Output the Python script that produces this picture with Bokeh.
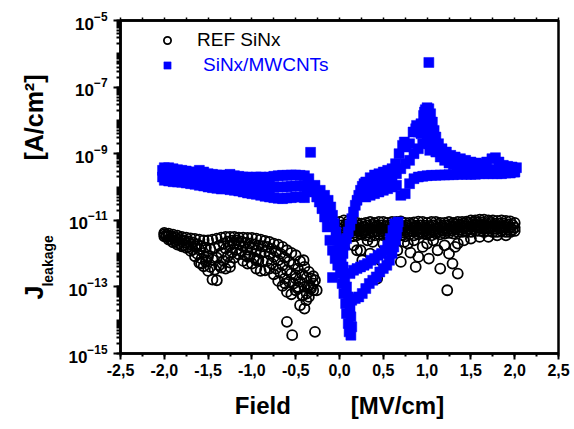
import numpy as np
from bokeh.plotting import figure
from bokeh.models import (Range1d, FixedTicker, LinearAxis, Legend, LegendItem,
                          CustomJSTickFormatter, ColumnDataSource)
from bokeh.embed import file_html
from bokeh.resources import INLINE

# ---------------- data (values are log10 of J_leakage in A/cm^2) ----------------
x_ticks = [-2.5, -2.0, -1.5, -1.0, -0.5, 0.0, 0.5, 1.0, 1.5, 2.0, 2.5]
x_tick_labels = ["-2,5", "-2,0", "-1,5", "-1,0", "-0,5", "0,0", "0,5", "1,0", "1,5", "2,0", "2,5"]
y_tick_decades = [-15, -13, -11, -9, -7, -5]

# REF SiNx, negative field side
ref_neg_x = [-2.00, -1.95, -1.90, -1.85, -1.80, -1.75, -1.70, -1.65, -1.60, -1.55,
             -1.50, -1.45, -1.40, -1.35, -1.30, -1.25, -1.20, -1.15, -1.10, -1.05,
             -1.00, -0.95, -0.90, -0.85, -0.80, -0.75, -0.70, -0.65, -0.60, -0.55,
             -0.50, -0.45, -0.40, -0.35, -0.30]
ref_neg_upper = [-11.38, -11.40, -11.43, -11.46, -11.50, -11.52, -11.54, -11.56, -11.58, -11.60,
                 -11.60, -11.58, -11.55, -11.52, -11.50, -11.50, -11.50, -11.52, -11.52, -11.53,
                 -11.53, -11.55, -11.58, -11.62, -11.65, -11.70, -11.73, -11.80, -11.90, -11.98,
                 -12.05, -12.23, -12.40, -12.55, -12.68]
ref_neg_mid = [-11.42, -11.48, -11.53, -11.58, -11.63, -11.68, -11.72, -11.78, -11.88, -11.98,
               -12.08, -12.18, -12.12, -11.98, -11.85, -11.75, -11.70, -11.70, -11.78, -11.88,
               -11.85, -11.90, -11.98, -11.95, -12.00, -12.10, -12.20, -12.35, -12.50, -12.60,
               -12.65, -12.85, -13.00, -12.95, -12.90]
ref_neg_lower = [-11.48, -11.58, -11.66, -11.73, -11.78, -11.83, -11.92, -12.08, -12.28, -12.38,
                 -12.52, -12.78, -12.80, -12.42, -12.45, -12.27, -12.12, -12.02, -12.22, -12.30,
                 -12.30, -12.45, -12.52, -12.50, -12.45, -12.62, -12.82, -12.97, -13.15, -13.22,
                 -13.10, -13.55, -13.65, -13.30, -13.10]
ref_neg_x2 = [-1.975, -1.925, -1.875, -1.825, -1.775, -1.725, -1.675, -1.625, -1.575, -1.525,
              -1.475, -1.425, -1.375, -1.325, -1.275, -1.225, -1.175, -1.125, -1.075, -1.025,
              -0.975, -0.925, -0.875, -0.825, -0.775, -0.725, -0.675, -0.625, -0.575, -0.525,
              -0.475, -0.425, -0.375, -0.325]
ref_neg_q1 = [-11.44, -11.48, -11.52, -11.56, -11.60, -11.63, -11.66, -11.72, -11.78, -11.82,
              -11.86, -11.82, -11.76, -11.70, -11.64, -11.61, -11.60, -11.63, -11.68, -11.70,
              -11.72, -11.76, -11.78, -11.80, -11.86, -11.93, -12.00, -12.12, -12.24, -12.32,
              -12.45, -12.62, -12.72, -12.75]
ref_neg_q2 = [-11.50, -11.58, -11.63, -11.70, -11.75, -11.80, -11.88, -12.00, -12.15, -12.25,
              -12.40, -12.48, -12.35, -12.22, -12.08, -11.96, -11.88, -11.92, -12.05, -12.08,
              -12.12, -12.20, -12.24, -12.22, -12.30, -12.45, -12.58, -12.75, -12.85, -12.90,
              -13.05, -13.25, -13.20, -13.05]
ref_neg_scatter_x = [-1.58, -1.52, -1.25, -1.05, -0.95, -0.62, -0.50, -0.47, -0.42, -0.38,
                     -0.33, -0.28, -0.26, -0.41, -0.60, -0.54, -0.28]
ref_neg_scatter = [-12.30, -12.20, -12.40, -12.10, -12.20, -12.90, -12.75, -13.00, -13.25, -13.40,
                   -13.00, -12.80, -13.10, -12.20, -14.05, -14.45, -14.35]

# REF SiNx, positive field side
ref_pos_x = [0.00, 0.05, 0.10, 0.15, 0.20, 0.25, 0.30, 0.35, 0.40, 0.45,
             0.50, 0.55, 0.60, 0.65, 0.70, 0.75, 0.80, 0.85, 0.90, 0.95,
             1.00, 1.05, 1.10, 1.15, 1.20, 1.25, 1.30, 1.35, 1.40, 1.45,
             1.50, 1.55, 1.60, 1.65, 1.70, 1.75, 1.80, 1.85, 1.90, 1.95, 2.00]
ref_pos_upper = [-11.05, -11.00, -11.03, -11.08, -11.08, -11.10, -11.08, -11.05, -11.08, -11.05,
                 -11.05, -11.08, -11.05, -11.05, -11.03, -11.08, -11.08, -11.06, -11.04, -11.05,
                 -11.08, -11.05, -11.05, -11.08, -11.08, -11.05, -11.08, -11.05, -11.05, -11.04,
                 -11.00, -11.00, -10.98, -10.98, -11.00, -11.00, -11.02, -11.00, -11.02, -11.03, -11.08]
ref_pos_mid = [-11.25, -11.22, -11.25, -11.28, -11.26, -11.25, -11.28, -11.25, -11.22, -11.25,
               -11.26, -11.28, -11.25, -11.24, -11.26, -11.28, -11.25, -11.22, -11.25, -11.26,
               -11.25, -11.28, -11.25, -11.22, -11.24, -11.26, -11.22, -11.20, -11.20, -11.18,
               -11.18, -11.15, -11.15, -11.15, -11.18, -11.18, -11.18, -11.20, -11.20, -11.22, -11.22]
ref_pos_lower = [-11.42, -11.45, -11.42, -11.48, -11.45, -11.42, -11.45, -11.48, -11.45, -11.42,
                 -11.45, -11.48, -11.45, -11.42, -11.45, -11.48, -11.42, -11.45, -11.42, -11.40,
                 -11.42, -11.45, -11.40, -11.42, -11.40, -11.38, -11.40, -11.35, -11.35, -11.32,
                 -11.35, -11.32, -11.32, -11.35, -11.32, -11.35, -11.35, -11.32, -11.35, -11.35, -11.32]
ref_pos_x2 = [0.025, 0.075, 0.125, 0.175, 0.225, 0.275, 0.325, 0.375, 0.425, 0.475,
              0.525, 0.575, 0.625, 0.675, 0.725, 0.775, 0.825, 0.875, 0.925, 0.975,
              1.025, 1.075, 1.125, 1.175, 1.225, 1.275, 1.325, 1.375, 1.425, 1.475,
              1.525, 1.575, 1.625, 1.675, 1.725, 1.775, 1.825, 1.875, 1.925, 1.975]
ref_pos_q1 = [-11.15, -11.12, -11.16, -11.18, -11.16, -11.18, -11.15, -11.14, -11.16, -11.15,
              -11.17, -11.15, -11.14, -11.16, -11.17, -11.15, -11.14, -11.16, -11.15, -11.16,
              -11.17, -11.15, -11.14, -11.16, -11.15, -11.14, -11.12, -11.12, -11.10, -11.08,
              -11.07, -11.06, -11.06, -11.08, -11.08, -11.10, -11.10, -11.10, -11.12, -11.14]
ref_pos_q2 = [-11.35, -11.34, -11.36, -11.37, -11.35, -11.36, -11.37, -11.35, -11.33, -11.35,
              -11.37, -11.36, -11.34, -11.35, -11.37, -11.35, -11.33, -11.34, -11.35, -11.34,
              -11.36, -11.35, -11.33, -11.32, -11.32, -11.30, -11.28, -11.27, -11.25, -11.25,
              -11.24, -11.23, -11.25, -11.24, -11.25, -11.26, -11.25, -11.27, -11.28, -11.28]
ref_pos_scatter_x = [0.05, 0.16, 0.20, 0.24, 0.26, 0.32, 0.35, 0.38, 0.43, 0.47,
                     0.50, 0.55, 0.62, 0.66, 0.70, 0.74, 0.78, 0.81, 0.85, 0.87,
                     0.90, 0.95, 1.00, 1.02, 1.07, 1.12, 1.15, 1.20, 1.23, 1.25,
                     1.29, 1.32, 1.35, 1.35, 1.42, 1.50, 1.60, 1.70, 1.80, 1.90]
ref_pos_scatter = [-11.60, -11.75, -11.90, -11.90, -12.20, -11.60, -12.00, -11.65, -12.75, -12.20,
                   -11.70, -11.85, -11.60, -11.90, -12.25, -11.65, -11.70, -11.97, -11.60, -12.40,
                   -12.10, -11.80, -11.70, -12.15, -11.60, -11.90, -12.45, -11.75, -13.10, -12.00,
                   -12.30, -11.80, -12.60, -11.70, -11.60, -11.55, -11.50, -11.50, -11.45, -11.45]

# SiNx/MWCNTs, negative field plateau
blue_neg_x = [-2.00, -1.95, -1.90, -1.85, -1.80, -1.75, -1.70, -1.65, -1.60, -1.55,
              -1.50, -1.45, -1.40, -1.35, -1.30, -1.25, -1.20, -1.15, -1.10, -1.05,
              -1.00, -0.95, -0.90, -0.85, -0.80, -0.75, -0.70, -0.65, -0.60, -0.55,
              -0.50, -0.45, -0.40]
blue_neg_upper = [-9.42, -9.42, -9.45, -9.48, -9.50, -9.52, -9.55, -9.55, -9.50, -9.55,
                  -9.60, -9.62, -9.64, -9.64, -9.66, -9.62, -9.66, -9.68, -9.70, -9.70,
                  -9.72, -9.70, -9.70, -9.72, -9.70, -9.68, -9.66, -9.65, -9.65, -9.64,
                  -9.64, -9.65, -9.66]
blue_neg_mid = [-9.60, -9.62, -9.64, -9.66, -9.68, -9.70, -9.72, -9.74, -9.72, -9.76,
                -9.80, -9.82, -9.84, -9.85, -9.86, -9.85, -9.88, -9.90, -9.92, -9.94,
                -9.96, -9.96, -9.98, -10.00, -10.00, -10.00, -10.00, -10.00, -9.99, -9.98,
                -9.97, -9.97, -9.99]
blue_neg_lower = [-9.80, -9.82, -9.84, -9.85, -9.86, -9.88, -9.90, -9.92, -9.95, -9.97,
                  -10.00, -10.02, -10.04, -10.06, -10.05, -10.08, -10.10, -10.12, -10.15, -10.18,
                  -10.20, -10.22, -10.25, -10.28, -10.30, -10.32, -10.34, -10.35, -10.33, -10.32,
                  -10.30, -10.30, -10.32]

# SiNx/MWCNTs, dip around zero field
blue_dip_a_x = [-0.36, -0.32, -0.29, -0.26, -0.23, -0.20, -0.17, -0.14, -0.11, -0.08,
                -0.05, -0.02, 0.01, 0.03, 0.05, 0.07, 0.08, 0.10, 0.11, 0.13]
blue_dip_a = [-9.85, -10.00, -10.15, -10.30, -10.45, -10.65, -10.90, -11.20, -11.60, -11.90,
              -12.15, -12.35, -12.60, -12.90, -13.20, -13.50, -13.80, -14.10, -14.35, -14.45]
blue_dip_b_x = [-0.28, -0.22, -0.17, -0.13, -0.10, -0.08, -0.06, -0.04, -0.02, 0.00,
                0.02, 0.04, 0.06, 0.08, 0.10, 0.12, 0.13, 0.14]
blue_dip_b = [-9.95, -10.10, -10.25, -10.40, -10.60, -10.85, -11.10, -11.35, -11.60, -11.85,
              -12.10, -12.40, -12.70, -13.00, -13.30, -13.60, -13.90, -14.20]
blue_arm_x = [0.04, 0.06, 0.08, 0.10, 0.12, 0.14, 0.16, 0.18, 0.20, 0.22, 0.24, 0.26, 0.28]
blue_arm = [-12.00, -11.75, -11.55, -11.35, -11.15, -10.95, -10.75, -10.55, -10.40, -10.25,
            -10.10, -9.98, -9.90]
blue_rise_a_x = [0.14, 0.18, 0.22, 0.26, 0.30, 0.34, 0.38, 0.42, 0.46, 0.50,
                 0.54, 0.57, 0.60, 0.62, 0.64, 0.65, 0.66, 0.67]
blue_rise_a = [-13.40, -13.35, -13.30, -13.20, -13.05, -12.90, -12.80, -12.70, -12.55, -12.45,
               -12.35, -12.20, -12.00, -11.80, -11.60, -11.40, -11.20, -11.05]
blue_rise_b_x = [0.12, 0.16, 0.20, 0.24, 0.28, 0.32, 0.36, 0.40, 0.44, 0.48,
                 0.52, 0.55, 0.58, 0.61, 0.63]
blue_rise_b = [-12.60, -12.50, -12.45, -12.40, -12.35, -12.30, -12.20, -12.15, -12.05, -12.00,
               -11.90, -11.75, -11.55, -11.30, -11.10]

# SiNx/MWCNTs, positive field side with peak near 1 MV/cm
blue_top_x = [0.30, 0.35, 0.40, 0.45, 0.50, 0.55, 0.60, 0.64, 0.68, 0.72,
              0.76, 0.80, 0.84, 0.87, 0.90, 0.93, 0.96, 0.98, 1.00, 1.02,
              1.04, 1.06, 1.08, 1.10, 1.13, 1.17, 1.22, 1.27, 1.32, 1.38,
              1.44, 1.50, 1.56, 1.62, 1.68, 1.74, 1.78, 1.82, 1.87, 1.92, 1.97, 2.02]
blue_top = [-9.85, -9.72, -9.64, -9.60, -9.55, -9.50, -9.45, -9.30, -9.00, -8.75,
            -8.80, -8.70, -8.35, -8.25, -8.35, -8.10, -7.85, -7.68, -7.62, -7.65,
            -7.80, -8.05, -8.30, -8.50, -8.70, -8.85, -8.95, -9.05, -9.10, -9.15,
            -9.20, -9.25, -9.28, -9.30, -9.25, -9.15, -9.12, -9.25, -9.35, -9.38, -9.40, -9.42]
blue_pos_x = [0.30, 0.35, 0.40, 0.45, 0.50, 0.55, 0.60, 0.65, 0.70, 0.75,
              0.80, 0.85, 0.90, 0.95, 1.00, 1.05, 1.10, 1.15, 1.20, 1.25,
              1.30, 1.35, 1.40, 1.45, 1.50, 1.55, 1.60, 1.65, 1.70, 1.75,
              1.80, 1.85, 1.90, 1.95, 2.00]
blue_pos_mid = [-10.05, -9.98, -9.92, -9.88, -9.84, -9.80, -9.75, -9.60, -9.45, -9.30,
                -9.20, -9.00, -8.85, -8.70, -8.55, -8.70, -8.95, -9.10, -9.20, -9.28,
                -9.33, -9.38, -9.40, -9.42, -9.45, -9.46, -9.47, -9.48, -9.48, -9.48,
                -9.50, -9.50, -9.52, -9.52, -9.55]
blue_pos_lower = [-10.30, -10.25, -10.20, -10.15, -10.10, -10.05, -10.00, -9.95, -10.25, -10.20,
                  -9.90, -9.75, -9.70, -9.68, -9.66, -9.65, -9.65, -9.64, -9.64, -9.63,
                  -9.63, -9.62, -9.62, -9.62, -9.62, -9.62, -9.60, -9.60, -9.60, -9.60,
                  -9.60, -9.60, -9.58, -9.58, -9.55]
blue_spike_x = [0.97, 0.99, 1.00, 1.00, 1.01, 1.02, 1.03, 0.93, 0.88, 0.74]
blue_spike = [-7.75, -7.90, -8.10, -8.30, -8.50, -8.70, -8.90, -8.40, -8.15, -8.65]
blue_extra_x = [-2.02, -2.02, -1.97, -1.92, -0.35, -0.37, -0.33, 1.02, -0.08]
blue_extra = [-9.50, -9.70, -9.55, -9.75, -9.75, -10.10, -8.96, -6.26, -12.72]

ref_x = (ref_neg_x * 3 + ref_neg_x2 * 2 + ref_neg_scatter_x
         + ref_pos_x * 3 + ref_pos_x2 * 2 + ref_pos_scatter_x)
ref_log = (ref_neg_upper + ref_neg_mid + ref_neg_lower + ref_neg_q1 + ref_neg_q2 + ref_neg_scatter
           + ref_pos_upper + ref_pos_mid + ref_pos_lower + ref_pos_q1 + ref_pos_q2 + ref_pos_scatter)
blue_x = (blue_neg_x * 3 + blue_dip_a_x + blue_dip_b_x + blue_arm_x + blue_rise_a_x
          + blue_rise_b_x + blue_top_x + blue_pos_x * 2 + blue_spike_x + blue_extra_x)
blue_log = (blue_neg_upper + blue_neg_mid + blue_neg_lower + blue_dip_a + blue_dip_b + blue_arm
            + blue_rise_a + blue_rise_b + blue_top + blue_pos_mid + blue_pos_lower
            + blue_spike + blue_extra)

ref_src = ColumnDataSource(dict(x=ref_x, y=(10.0 ** np.array(ref_log)).tolist()))
blue_src = ColumnDataSource(dict(x=blue_x, y=(10.0 ** np.array(blue_log)).tolist()))

# ---------------- figure ----------------
FONT = "Liberation Sans"
NB = "\u00a0"
p = figure(width=574, height=429, x_range=Range1d(-2.5, 2.5), y_range=Range1d(1e-15, 1e-5),
           y_axis_type="log", output_backend="svg", toolbar_location=None,
           min_border_left=120, min_border_right=16, min_border_top=20, min_border_bottom=76)
p.background_fill_color = "white"
p.border_fill_color = "white"
p.outline_line_color = "black"
p.outline_line_width = 2.5
p.xgrid.grid_line_color = None
p.ygrid.grid_line_color = None

r_ref = p.scatter("x", "y", source=ref_src, marker="circle", size=10,
                  fill_color=None, line_color="black", line_width=1.8)
r_blue = p.scatter("x", "y", source=blue_src, marker="square", size=10,
                   fill_color="#0000FF", line_color="#0000FF", line_width=0.5)

# x axis
xa = p.xaxis[0]
xa.ticker = FixedTicker(ticks=x_ticks,
                        minor_ticks=[t + 0.25 for t in x_ticks[:-1]] + x_ticks)
xa.formatter = CustomJSTickFormatter(args=dict(xt=x_ticks, xl=x_tick_labels), code="""
    for (let i = 0; i < xt.length; i++) {
        if (Math.abs(xt[i] - tick) < 1e-9) { return xl[i]; }
    }
    return "";
""")
ya = p.yaxis[0]
ya.ticker = FixedTicker(ticks=[10.0 ** e for e in y_tick_decades],
                        minor_ticks=[k * 10.0 ** e for e in range(-15, -5) for k in range(1, 10)] + [1e-5])
for ax in (xa, ya):
    ax.axis_line_width = 2.5
    ax.axis_line_color = "black"
    ax.major_tick_in = 0
    ax.minor_tick_in = 0
    ax.major_tick_line_width = 2
    ax.minor_tick_line_width = 2
    ax.major_label_text_font = FONT
    ax.major_label_text_font_style = "bold"
    ax.major_label_text_color = "black"
xa.major_tick_out = 6
xa.minor_tick_out = 3
xa.major_label_text_font_size = "16px"
xa.major_label_standoff = 4
xa.axis_label = "Field" + NB * 9 + "[MV/cm]"
xa.axis_label_text_font = FONT
xa.axis_label_text_font_style = "bold"
xa.axis_label_text_font_size = "24px"
xa.axis_label_text_color = "black"
xa.axis_label_standoff = 13
ya.major_tick_out = 7
ya.minor_tick_out = 4
ya.major_label_text_font_size = "17px"
ya.major_label_standoff = 6

top = LinearAxis(ticker=FixedTicker(ticks=[t / 4 for t in range(-10, 11)]),
                 formatter=CustomJSTickFormatter(code="return ''"),
                 major_tick_in=0, major_tick_out=3, minor_tick_out=0,
                 major_tick_line_width=1.5, axis_line_width=2.5, major_label_standoff=0)
p.add_layout(top, "above")

# y axis title: two label-only axes stacked outward from the tick labels
def title_axis(text, size, standoff):
    ax = LinearAxis(ticker=FixedTicker(ticks=[]), axis_line_alpha=0,
                    major_tick_in=0, major_tick_out=0, minor_tick_in=0, minor_tick_out=0,
                    major_label_standoff=0, axis_label=text, axis_label_standoff=standoff,
                    axis_label_text_font=FONT, axis_label_text_font_style="bold",
                    axis_label_text_font_size=size, axis_label_text_color="black")
    p.add_layout(ax, "left")

title_axis("leakage" + NB * 38, "14px", 10)
title_axis("J" + NB * 18 + "[A/cm\u00b2]", "25px", -11)

# legends
def make_legend(label, renderer, loc, standoff, color):
    lg = Legend(items=[LegendItem(label=label, renderers=[renderer])], location=loc,
                padding=0, margin=0, spacing=0, glyph_width=18, glyph_height=22,
                label_height=22, label_standoff=standoff,
                label_text_font=FONT, label_text_font_size="19px", label_text_color=color,
                border_line_alpha=0, background_fill_alpha=0)
    p.add_layout(lg)

make_legend("REF SiNx", r_ref, (38, 302), 21, "black")
make_legend("SiNx/MWCNTs", r_blue, (38, 277), 27, "#0000FF")

open("out.html", "w").write(file_html(p, INLINE))
